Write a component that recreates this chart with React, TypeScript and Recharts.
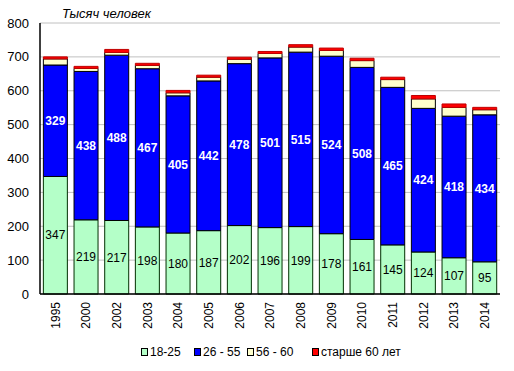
import React from 'react';
import { BarChart, Bar, XAxis, YAxis, CartesianGrid, Legend, LabelList } from 'recharts';

const years = ['1995', '2000', '2002', '2003', '2004', '2005', '2006', '2007', '2008', '2009', '2010', '2011', '2012', '2013', '2014'];
const age18to25 = [347, 219, 217, 198, 180, 187, 202, 196, 199, 178, 161, 145, 124, 107, 95];
const age26to55 = [329, 438, 488, 467, 405, 442, 478, 501, 515, 524, 508, 465, 424, 418, 434];
const age56to60 = [18, 9, 8, 10, 9, 11, 13, 13, 15, 17, 20, 23, 28, 26, 15];
const over60 = [6, 6, 9, 6, 7, 6, 6, 6, 7, 7, 7, 7, 10, 10, 7];
const yTicks = [0, 100, 200, 300, 400, 500, 600, 700, 800];

const series = [
    { key: 'a', name: '18-25', color: '#b4ffc8', w: 53 },
    { key: 'b', name: '26 - 55', color: '#0000ff', w: 53 },
    { key: 'c', name: '56 - 60', color: '#ffffcc', w: 65 },
    { key: 'd', name: 'старше 60 лет', color: '#ff0000', w: 90 },
];

const data = years.map((y, i) => ({
    year: y,
    a: age18to25[i],
    b: age26to55[i],
    c: age56to60[i],
    d: over60[i],
}));

const FONT = '"Liberation Sans", Arial, sans-serif';

const YearTick = (props: any) => {
    const { x, y, payload } = props;
    return (
        <g transform={`translate(${x},${y})`}>
            <text transform="rotate(-90)" x={0} y={0} dy="0.35em" textAnchor="end" fontSize={12} fill="#000" fontFamily={FONT}>
                {payload.value}
            </text>
        </g>
    );
};

// fixed slots so the legend sits where the original one does
const LegendContent = () => (
    <div style={{ display: 'flex', fontFamily: FONT, fontSize: 12, color: '#000', paddingLeft: 141 }}>
        {series.map(s => (
            <div key={s.key} style={{ display: 'flex', alignItems: 'center', width: s.w, whiteSpace: 'nowrap' }}>
                <span style={{ width: 5, height: 6, background: s.color, border: '1px solid #000', marginRight: 2, display: 'inline-block' }} />
                <span>{s.name}</span>
            </div>
        ))}
    </div>
);

export default function App() {
    return (
        <div style={{ position: 'absolute', left: 0, top: 0, width: 514, height: 371, background: '#fff' }}>
            <BarChart width={514} height={371} data={data} barCategoryGap="11%" margin={{ top: 23, right: 14, left: 0, bottom: 0 }}>
                <CartesianGrid horizontal vertical={false} stroke="#c0c0c0" strokeWidth={1} />
                <XAxis dataKey="year" height={63} tick={<YearTick />} tickLine={false} axisLine={{ stroke: '#000', strokeWidth: 1.5 }} interval={0} />
                <YAxis domain={[0, 800]} ticks={yTicks} width={40} tickLine={false} axisLine={{ stroke: '#000', strokeWidth: 1.5 }}
                    tick={{ fontSize: 13, fill: '#000', fontFamily: FONT }} tickMargin={5} />
                <YAxis yAxisId="r" orientation="right" domain={[0, 800]} width={0} tick={false} tickLine={false} axisLine={{ stroke: '#909090', strokeWidth: 1.5 }} />
                <Legend verticalAlign="bottom" content={<LegendContent />} wrapperStyle={{ position: 'absolute', top: 345, left: 0, width: 514 }} />
                <Bar dataKey="a" name="18-25" stackId="s" fill="#b4ffc8" stroke="#003000" strokeWidth={1} isAnimationActive={false}>
                    <LabelList dataKey="a" position="center" fill="#000" fontSize={12} fontFamily={FONT} />
                </Bar>
                <Bar dataKey="b" name="26 - 55" stackId="s" fill="#0000ff" stroke="#000" strokeWidth={1} isAnimationActive={false}>
                    <LabelList dataKey="b" position="center" fill="#fff" fontSize={12} fontWeight="bold" fontFamily={FONT} />
                </Bar>
                <Bar dataKey="c" name="56 - 60" stackId="s" fill="#ffffcc" stroke="#000" strokeWidth={1} isAnimationActive={false} />
                <Bar dataKey="d" name="старше 60 лет" stackId="s" fill="#ff0000" stroke="#c00000" strokeWidth={1} isAnimationActive={false} />
            </BarChart>
            <div style={{ position: 'absolute', left: 62, top: 6, fontFamily: FONT, fontSize: 13, fontStyle: 'italic', color: '#000' }}>
                Тысяч человек
            </div>
        </div>
    );
}
